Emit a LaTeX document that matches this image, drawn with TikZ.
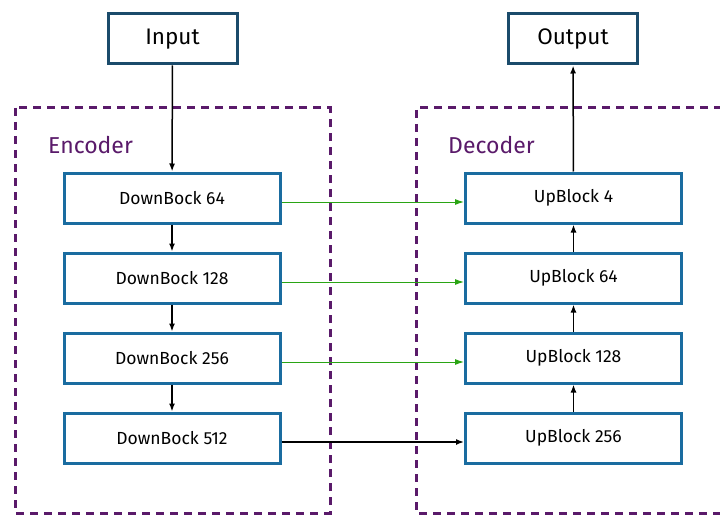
\documentclass[tikz,border=0pt]{standalone}
\usepackage{fontspec}
\setmainfont{Fira Sans}
\usetikzlibrary{arrows.meta}
\definecolor{ioblue}{HTML}{1B4B6B}
\definecolor{blockblue}{HTML}{1A6CA0}
\definecolor{grpurple}{HTML}{5A1A6A}
\definecolor{skipgreen}{HTML}{2AA514}
\tikzset{
  iobox/.style={draw=ioblue, line width=3pt, minimum width=129pt, minimum height=50pt, inner sep=0pt, font=\fontsize{22.5}{26}\selectfont},
  blockbox/.style={draw=blockblue, line width=3pt, minimum width=216pt, minimum height=50pt, inner sep=0pt, font=\fontsize{17.5}{21}\selectfont},
  groupbox/.style={draw=grpurple, line width=3pt, dash pattern=on 8pt off 6pt},
  grouplabel/.style={text=grpurple, font=\fontsize{23}{26}\selectfont, anchor=west, inner sep=0pt},
  flow/.style={line width=1.5pt, -{Latex[length=8pt,width=6pt]}},
  skip/.style={draw=skipgreen, line width=1pt, -{Latex[length=9pt,width=6pt]}},
}
\begin{document}
\begin{tikzpicture}[x=1pt,y=-1pt]
\useasboundingbox[fill=white] (0,0) rectangle (720,516);

% group frames
\draw[groupbox] (15,108) rectangle (330,513);
\draw[groupbox] (722,108) -- (416,108) -- (416,513) -- (722,513);
\node[grouplabel] (enc) at (48,145) {Encoder};
\node[grouplabel] (dec) at (448,145) {Decoder};

% input / output
\node[iobox] (in) at (172.5,39) {Input};
\node[iobox] (out) at (573,39) {Output};

% encoder blocks
\node[blockbox] (d1) at (172,198) {DownBock 64};
\node[blockbox] (d2) at (172,278) {DownBock 128};
\node[blockbox] (d3) at (172,358) {DownBock 256};
\node[blockbox] (d4) at (172,438) {DownBock 512};

% decoder blocks
\node[blockbox] (u1) at (573.5,198) {UpBlock 4};
\node[blockbox] (u2) at (573.5,278) {UpBlock 64};
\node[blockbox] (u3) at (573.5,358) {UpBlock 128};
\node[blockbox] (u4) at (573.5,438) {UpBlock 256};

% main path
\draw[flow] (in) -- (d1);
\draw[flow] (d1) -- (d2);
\draw[flow] (d2) -- (d3);
\draw[flow] (d3) -- (d4);
\draw[flow] ([yshift=-4pt]d4.east) -- ([yshift=-4pt]u4.west);
\draw[flow] (u4) -- (u3);
\draw[flow] (u3) -- (u2);
\draw[flow] (u2) -- (u1);
\draw[flow] (u1) -- (out);

% skip connections
\draw[skip] ([yshift=-4pt]d1.east) -- ([yshift=-4pt]u1.west);
\draw[skip] ([yshift=-4pt]d2.east) -- ([yshift=-4pt]u2.west);
\draw[skip] ([yshift=-4pt]d3.east) -- ([yshift=-4pt]u3.west);
\end{tikzpicture}
\end{document}
